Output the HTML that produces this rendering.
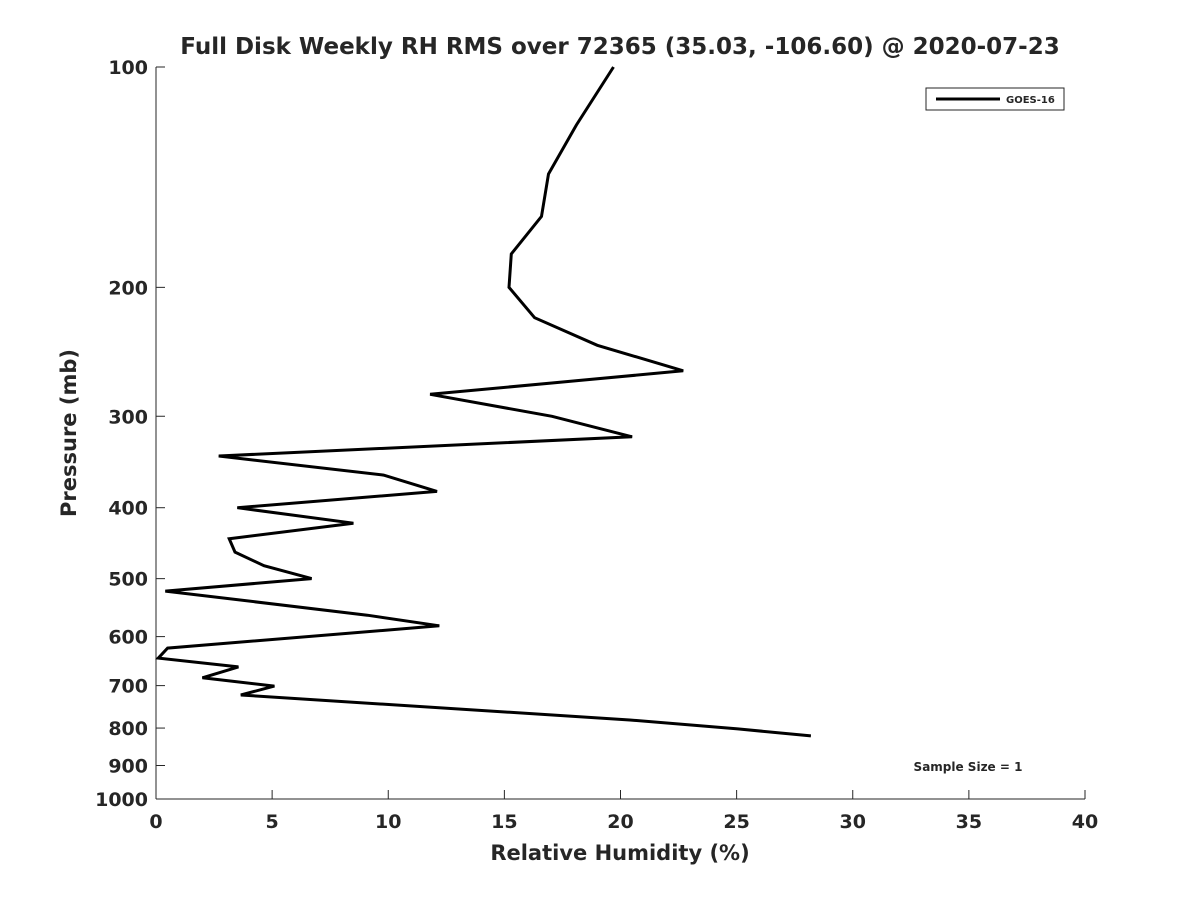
<!DOCTYPE html>
<html><head><meta charset="utf-8"><style>
body{margin:0;background:#fff}
svg text{font-family:"DejaVu Sans","Liberation Sans",sans-serif;font-weight:bold;fill:#262626}
</style></head><body>
<svg width="1200" height="900" id="c">
<text x="620" y="54" font-size="23" text-anchor="middle">Full Disk Weekly RH RMS over 72365 (35.03, -106.60) @ 2020-07-23</text>
<text x="620" y="860" font-size="21" text-anchor="middle">Relative Humidity (%)</text>
<text transform="translate(76,433) rotate(-90)" font-size="21" text-anchor="middle">Pressure (mb)</text>
<g id="ax"></g>
<g>
<rect x="926" y="88" width="138" height="22" fill="#fff" stroke="#262626" stroke-width="1"/>
<line x1="936" y1="99" x2="1000" y2="99" stroke="#000" stroke-width="3"/>
<text x="1006" y="103" font-size="10">GOES-16</text>
</g>
<text x="968" y="771" font-size="12" text-anchor="middle">Sample Size = 1</text>
</svg>
<script>
const rhValues=[19.7,18.1,16.9,16.6,15.3,15.2,16.3,19.0,22.7,11.8,17.05,20.5,2.7,9.8,12.1,3.5,8.5,3.15,3.4,4.65,6.7,0.4,9.1,12.2,0.5,0.1,3.55,2.0,5.1,3.65,20.4,25.05,28.2];
const pressures=[100,120,140,160,180,200,220,240,260,280,300,320,340,361,380,400,420,441,460,480,500,520,561,580,622,642,660,683,701,721,780,802,820];
const xTicks=[0,5,10,15,20,25,30,35,40];
const yTicks=[100,200,300,400,500,600,700,800,900,1000];
const X0=156,X1=1085,Y0=67,Y1=799;
const xs=v=>X0+(v-0)/40*(X1-X0);
const ys=p=>Y0+Math.log10(p/100)*(Y1-Y0);
const NS="http://www.w3.org/2000/svg";
const ax=document.getElementById('ax');
function mk(t,a){const e=document.createElementNS(NS,t);for(const k in a)e.setAttribute(k,a[k]);ax.appendChild(e);return e;}
let e=mk('line',{x1:X0,y1:Y0,x2:X0,y2:Y1,stroke:'#262626','stroke-width':1});


e=mk('line',{x1:X0,y1:Y1,x2:X1,y2:Y1,stroke:'#262626','stroke-width':1});


xTicks.forEach(v=>{
 mk('line',{x1:xs(v),y1:Y1,x2:xs(v),y2:Y1-9,stroke:'#262626'});
 const t=mk('text',{x:xs(v),y:Y1+29,'font-size':19,'text-anchor':'middle'});t.textContent=v;
 
 
});
yTicks.forEach(p=>{
 mk('line',{x1:X0,y1:ys(p),x2:X0+9,y2:ys(p),stroke:'#262626'});
 const t=mk('text',{x:X0-8,y:ys(p)+7,'font-size':19,'text-anchor':'end'});t.textContent=p;
 
 
});
const pts=rhValues.map((v,i)=>xs(v).toFixed(1)+','+ys(pressures[i]).toFixed(1)).join(' ');
e=mk('polyline',{points:pts,fill:'none',stroke:'#000','stroke-width':3,'stroke-linejoin':'miter'});


</script>
</body></html>
